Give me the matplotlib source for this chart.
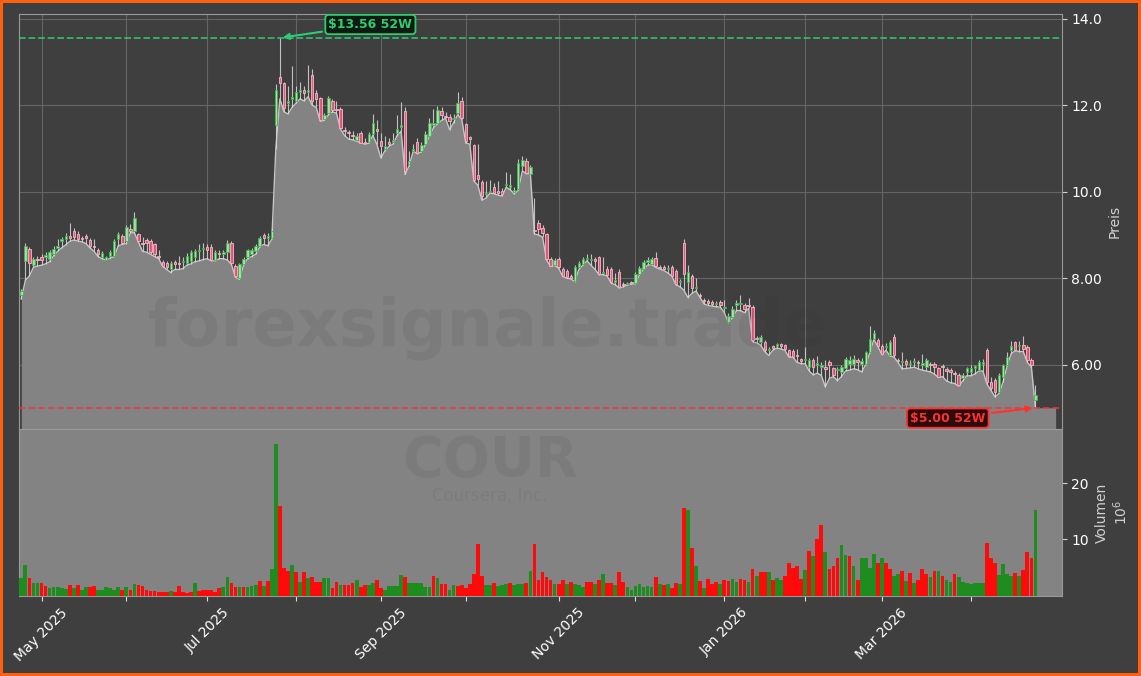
import matplotlib
matplotlib.use('Agg')
import matplotlib.pyplot as plt
import numpy as np
import pandas as pd

# --- chart data ---
ticker = 'COUR'
company = 'Coursera, Inc.'
watermark = 'forexsignale.trade'

# US market holidays inside the 52 week window
holidays = ['2025-05-26', '2025-06-19', '2025-07-04', '2025-09-01', '2025-11-27',
            '2025-12-25', '2026-01-01', '2026-01-19', '2026-02-16', '2026-04-03']
dates = pd.bdate_range('2025-04-24', '2026-04-24', freq='C', holidays=holidays)

open_ = [
    7.61, 8.40, 8.68, 8.31, 8.45, 8.50, 8.50, 8.44, 8.56, 8.70,
    8.85, 8.90, 8.98, 9.10, 9.02, 8.92, 8.98, 8.88, 8.74, 8.65,
    8.48, 8.42, 8.52, 8.52, 8.90, 8.98, 8.85, 9.14, 9.10, 9.02,
    8.80, 8.88, 8.86, 8.79, 8.50, 8.38, 8.36, 8.21, 8.38, 8.35,
    8.38, 8.34, 8.40, 8.48, 8.62, 8.68, 8.72, 8.73, 8.42, 8.58,
    8.55, 8.60, 8.82, 8.29, 8.00, 8.33, 8.49, 8.56, 8.63, 8.75,
    9.00, 8.92, 8.93, 11.55, 12.65, 12.51, 12.05, 12.15, 12.10, 12.30,
    12.35, 12.30, 12.70, 12.28, 12.17, 11.68, 11.82, 12.10, 11.92, 11.91,
    11.42, 11.38, 11.32, 11.20, 11.36, 11.15, 11.14, 11.33, 11.45, 11.17,
    11.00, 11.15, 11.15, 11.35, 11.50, 11.86, 10.65, 10.95, 11.15, 10.94,
    11.10, 11.30, 11.55, 11.60, 11.86, 11.75, 11.72, 11.68, 11.82, 12.09,
    11.56, 11.27, 11.08, 10.39, 10.23, 9.95, 10.00, 10.10, 10.00, 10.02,
    10.15, 10.12, 10.00, 10.06, 10.59, 10.71, 10.42, 9.12, 9.28, 9.17,
    9.02, 8.45, 8.31, 8.45, 8.21, 8.16, 8.05, 7.94, 8.25, 8.33,
    8.45, 8.42, 8.44, 8.48, 8.12, 8.22, 8.21, 7.92, 8.15, 7.86,
    7.86, 7.90, 7.88, 8.10, 8.22, 8.38, 8.33, 8.47, 8.25, 8.26,
    8.22, 8.25, 8.17, 7.90, 8.82, 7.90, 8.06, 7.78, 7.60, 7.48,
    7.47, 7.45, 7.40, 7.45, 7.30, 6.98, 7.10, 7.37, 7.40, 7.37,
    7.38, 7.33, 6.60, 6.52, 6.52, 6.33, 6.42, 6.42, 6.47, 6.45,
    6.33, 6.32, 6.22, 6.12, 6.10, 5.95, 6.10, 6.00, 5.95, 5.95,
    6.05, 5.91, 5.88, 5.83, 5.91, 6.02, 6.02, 6.10, 6.02, 6.02,
    6.29, 6.60, 6.56, 6.44, 6.40, 6.21, 6.63, 6.10, 6.05, 6.08,
    6.02, 6.05, 6.05, 6.00, 5.95, 6.00, 6.02, 5.91, 5.96, 5.90,
    5.88, 5.80, 5.75, 5.68, 5.82, 5.82, 5.92, 5.87, 6.02, 6.33,
    5.60, 5.64, 5.36, 5.71, 5.98, 6.33, 6.52, 6.42, 6.46, 6.40,
    6.10, 5.17]

close = [
    7.70, 8.75, 8.34, 8.45, 8.42, 8.42, 8.53, 8.60, 8.67, 8.74,
    8.90, 8.98, 8.94, 8.96, 8.90, 8.90, 8.92, 8.75, 8.72, 8.55,
    8.57, 8.48, 8.60, 8.85, 9.02, 8.82, 9.18, 9.08, 9.40, 8.85,
    8.78, 8.82, 8.60, 8.56, 8.48, 8.29, 8.25, 8.36, 8.33, 8.33,
    8.40, 8.52, 8.60, 8.63, 8.66, 8.70, 8.66, 8.42, 8.60, 8.56,
    8.60, 8.82, 8.36, 8.06, 8.33, 8.44, 8.65, 8.65, 8.75, 8.94,
    8.94, 8.98, 9.10, 12.36, 12.51, 11.94, 12.10, 12.20, 12.30, 12.35,
    12.28, 12.35, 12.10, 12.14, 11.67, 11.77, 12.18, 11.90, 11.90, 11.48,
    11.40, 11.35, 11.28, 11.30, 11.13, 11.12, 11.33, 11.60, 11.40, 11.05,
    11.05, 11.10, 11.20, 11.45, 11.55, 10.48, 10.70, 11.00, 10.90, 11.08,
    11.33, 11.60, 11.58, 11.90, 11.77, 11.72, 11.63, 11.70, 12.05, 11.70,
    11.17, 11.22, 10.27, 10.30, 9.90, 9.98, 10.02, 9.98, 9.98, 9.95,
    10.18, 10.15, 10.05, 10.67, 10.73, 10.44, 10.57, 9.10, 9.14, 9.05,
    8.44, 8.29, 8.43, 8.25, 8.06, 8.02, 8.00, 8.25, 8.36, 8.45,
    8.47, 8.45, 8.40, 8.10, 8.15, 8.08, 7.90, 7.95, 7.79, 7.84,
    7.86, 7.88, 8.10, 8.24, 8.38, 8.42, 8.45, 8.27, 8.23, 8.22,
    8.24, 8.06, 7.87, 7.92, 8.10, 8.14, 7.76, 7.80, 7.58, 7.46,
    7.42, 7.40, 7.42, 7.38, 7.32, 7.13, 7.29, 7.42, 7.42, 7.29,
    7.36, 6.56, 6.58, 6.63, 6.33, 6.35, 6.38, 6.47, 6.43, 6.35,
    6.19, 6.18, 6.20, 6.08, 6.12, 6.10, 5.95, 6.02, 6.00, 5.90,
    6.00, 5.75, 5.90, 5.94, 6.13, 6.10, 6.12, 6.05, 6.08, 6.29,
    6.60, 6.72, 6.44, 6.25, 6.42, 6.52, 6.21, 6.08, 6.08, 6.02,
    6.03, 6.08, 6.04, 6.02, 6.10, 5.98, 5.95, 5.71, 5.94, 5.85,
    5.82, 5.78, 5.52, 5.75, 5.91, 5.91, 5.96, 6.06, 6.06, 5.60,
    5.45, 5.36, 5.75, 5.98, 6.17, 6.44, 6.33, 6.46, 6.36, 6.10,
    5.98, 5.29]

high = [
    7.75, 8.82, 8.72, 8.50, 8.52, 8.55, 8.60, 8.64, 8.75, 8.90,
    8.95, 9.05, 9.28, 9.15, 9.08, 8.98, 9.02, 8.92, 8.90, 8.70,
    8.62, 8.52, 8.64, 8.90, 9.06, 9.02, 9.22, 9.25, 9.52, 9.05,
    8.95, 8.92, 8.90, 8.82, 8.65, 8.42, 8.40, 8.40, 8.42, 8.52,
    8.50, 8.58, 8.65, 8.68, 8.80, 8.82, 8.78, 8.78, 8.64, 8.66,
    8.64, 8.88, 8.85, 8.32, 8.36, 8.48, 8.68, 8.70, 8.78, 8.98,
    9.05, 9.05, 9.15, 12.50, 13.56, 12.55, 12.45, 12.90, 12.45, 12.55,
    12.45, 12.94, 12.85, 12.35, 12.20, 11.82, 12.22, 12.15, 12.10, 11.95,
    11.50, 11.42, 11.40, 11.35, 11.40, 11.25, 11.38, 11.79, 11.65, 11.35,
    11.30, 11.25, 11.35, 11.78, 12.08, 11.95, 10.95, 11.10, 11.25, 11.15,
    11.40, 11.70, 11.92, 11.98, 11.95, 11.85, 11.80, 11.80, 12.30, 12.20,
    11.60, 11.30, 11.10, 11.10, 10.28, 10.25, 10.28, 10.20, 10.25, 10.08,
    10.45, 10.40, 10.10, 10.75, 10.82, 10.78, 10.62, 9.86, 9.35, 9.22,
    9.05, 8.48, 8.47, 8.48, 8.25, 8.20, 8.10, 8.30, 8.40, 8.50,
    8.55, 8.55, 8.48, 8.52, 8.50, 8.28, 8.25, 8.12, 8.20, 7.90,
    7.92, 7.94, 8.14, 8.28, 8.42, 8.50, 8.50, 8.60, 8.30, 8.30,
    8.30, 8.30, 8.20, 7.98, 8.90, 8.30, 8.10, 8.00, 7.65, 7.55,
    7.52, 7.50, 7.48, 7.50, 7.50, 7.20, 7.35, 7.50, 7.60, 7.42,
    7.55, 7.38, 6.65, 6.68, 6.56, 6.40, 6.46, 6.50, 6.50, 6.48,
    6.36, 6.35, 6.35, 6.16, 6.40, 6.15, 6.15, 6.20, 6.05, 6.10,
    6.10, 5.95, 5.95, 5.98, 6.18, 6.20, 6.22, 6.15, 6.15, 6.32,
    6.90, 6.80, 6.62, 6.48, 6.50, 6.56, 6.70, 6.15, 6.30, 6.12,
    6.10, 6.15, 6.10, 6.25, 6.15, 6.05, 6.06, 5.95, 6.02, 5.95,
    5.92, 5.85, 5.80, 5.80, 5.95, 5.98, 6.00, 6.10, 6.12, 6.38,
    5.70, 5.68, 5.80, 6.02, 6.30, 6.55, 6.55, 6.55, 6.67, 6.45,
    6.15, 5.52]

low = [
    7.52, 7.95, 8.05, 8.25, 8.28, 8.30, 8.33, 8.38, 8.52, 8.62,
    8.70, 8.77, 8.85, 8.88, 8.86, 8.84, 8.80, 8.70, 8.62, 8.50,
    8.45, 8.42, 8.46, 8.50, 8.75, 8.78, 8.80, 9.05, 9.05, 8.83,
    8.62, 8.60, 8.55, 8.50, 8.45, 8.27, 8.20, 8.13, 8.20, 8.20,
    8.22, 8.30, 8.33, 8.38, 8.40, 8.43, 8.45, 8.40, 8.40, 8.45,
    8.45, 8.42, 8.32, 8.02, 7.97, 8.30, 8.45, 8.50, 8.55, 8.72,
    8.78, 8.75, 8.90, 11.00, 12.15, 11.85, 11.80, 11.95, 12.05, 12.15,
    12.10, 12.20, 12.00, 11.95, 11.63, 11.65, 11.78, 11.85, 11.82, 11.45,
    11.30, 11.22, 11.20, 11.17, 11.13, 11.10, 11.12, 11.30, 11.10, 10.78,
    10.95, 11.05, 11.10, 11.30, 11.40, 10.40, 10.60, 10.94, 10.88, 10.92,
    11.08, 11.28, 11.48, 11.57, 11.65, 11.70, 11.44, 11.60, 11.78, 11.68,
    11.13, 11.10, 10.25, 10.15, 9.80, 9.85, 9.97, 9.95, 9.92, 9.90,
    10.10, 10.05, 9.95, 10.03, 10.48, 10.42, 10.41, 9.02, 9.00, 8.95,
    8.42, 8.27, 8.29, 8.23, 8.04, 8.00, 7.98, 7.92, 8.20, 8.30,
    8.40, 8.30, 8.20, 8.08, 8.08, 8.05, 7.88, 7.85, 7.77, 7.80,
    7.84, 7.86, 7.87, 8.08, 8.20, 8.30, 8.31, 8.25, 8.21, 8.18,
    8.12, 8.05, 7.85, 7.80, 7.72, 7.55, 7.65, 7.70, 7.55, 7.40,
    7.37, 7.35, 7.34, 7.33, 7.20, 6.97, 7.08, 7.25, 7.25, 7.20,
    7.30, 6.53, 6.50, 6.45, 6.30, 6.21, 6.33, 6.38, 6.36, 6.33,
    6.17, 6.17, 6.05, 6.02, 6.02, 5.85, 5.76, 5.80, 5.75, 5.48,
    5.68, 5.72, 5.63, 5.72, 5.85, 5.87, 5.90, 5.88, 5.83, 6.00,
    6.27, 6.58, 6.42, 6.23, 6.33, 6.20, 6.17, 6.05, 5.90, 5.91,
    5.92, 5.94, 5.90, 5.87, 5.85, 5.83, 5.78, 5.70, 5.72, 5.62,
    5.58, 5.56, 5.50, 5.62, 5.74, 5.74, 5.78, 5.85, 5.85, 5.55,
    5.40, 5.25, 5.33, 5.60, 5.97, 6.25, 6.32, 6.30, 6.30, 6.05,
    5.94, 5.00]

# volume in millions of shares
volume = [
    3.1, 5.5, 3.1, 2.3, 2.2, 2.2, 1.7, 1.3, 1.5, 1.5,
    1.3, 1.2, 1.9, 1.3, 1.9, 1.1, 1.6, 1.6, 1.7, 1.1,
    1.1, 1.6, 1.3, 1.1, 1.5, 1.1, 1.6, 1.0, 2.1, 1.9,
    1.7, 1.0, 0.9, 0.9, 0.7, 0.7, 0.6, 0.8, 0.6, 1.7,
    0.7, 0.4, 0.6, 2.2, 0.9, 1.1, 1.1, 1.1, 0.6, 1.3,
    1.6, 3.3, 2.3, 1.5, 1.6, 1.5, 1.6, 1.7, 1.9, 2.7,
    1.7, 2.6, 4.8, 26.9, 16.0, 4.9, 4.4, 5.5, 4.3, 2.4,
    4.3, 3.2, 3.3, 2.4, 2.4, 3.2, 3.2, 1.4, 2.4, 1.9,
    1.9, 1.9, 2.2, 2.8, 1.5, 1.9, 1.9, 2.2, 2.8, 1.4,
    1.0, 1.7, 1.7, 1.8, 3.7, 3.4, 2.2, 2.2, 2.2, 2.3,
    1.5, 1.6, 3.5, 3.1, 2.1, 2.1, 1.0, 1.9, 1.8, 1.9,
    1.3, 2.0, 3.9, 9.2, 3.5, 1.9, 1.9, 2.2, 1.7, 1.9,
    2.1, 2.2, 1.9, 2.1, 2.1, 2.2, 4.4, 9.2, 2.8, 4.2,
    3.4, 2.8, 2.1, 2.1, 2.8, 2.1, 2.4, 2.1, 1.9, 1.5,
    2.4, 2.4, 2.0, 2.8, 3.9, 2.2, 2.2, 1.9, 4.2, 2.4,
    1.5, 1.1, 1.8, 2.1, 1.6, 1.8, 1.5, 3.4, 2.1, 1.9,
    2.1, 1.3, 2.2, 2.1, 15.6, 15.3, 8.5, 5.3, 2.6, 1.4,
    3.0, 2.0, 2.4, 2.0, 2.8, 2.6, 3.0, 2.5, 3.0, 2.8,
    2.5, 4.8, 3.5, 4.2, 4.2, 4.2, 2.8, 3.1, 2.8, 3.5,
    5.8, 5.0, 5.2, 3.0, 4.6, 8.0, 7.0, 10.1, 12.6, 7.7,
    4.7, 5.3, 6.7, 9.1, 7.3, 7.0, 5.3, 2.8, 6.7, 6.7,
    4.9, 7.4, 5.8, 6.7, 5.8, 4.7, 3.5, 3.9, 4.4, 2.6,
    4.0, 2.3, 2.8, 4.7, 3.9, 3.4, 4.4, 4.4, 3.5, 2.8,
    2.5, 3.9, 3.3, 2.5, 2.2, 2.1, 2.3, 2.2, 2.3, 9.4,
    6.7, 5.9, 3.7, 5.7, 3.9, 3.5, 4.0, 3.5, 4.6, 7.7,
    6.7, 15.3]

# 1 = green volume bar, 0 = red volume bar
volume_up = [
    1, 1, 0, 1, 1, 0, 0, 1, 1, 1,
    1, 1, 0, 1, 0, 1, 1, 0, 0, 1,
    1, 1, 1, 1, 1, 0, 1, 0, 1, 0,
    0, 0, 0, 0, 0, 0, 0, 1, 0, 0,
    0, 0, 0, 1, 0, 0, 0, 0, 0, 0,
    1, 1, 0, 0, 1, 0, 1, 1, 1, 0,
    1, 0, 1, 1, 0, 0, 0, 1, 0, 1,
    0, 1, 0, 0, 0, 1, 1, 0, 0, 1,
    0, 0, 0, 1, 0, 0, 1, 1, 0, 0,
    1, 1, 1, 1, 1, 0, 1, 1, 1, 1,
    1, 1, 0, 1, 0, 0, 1, 1, 0, 0,
    0, 0, 0, 0, 0, 1, 1, 0, 1, 1,
    1, 0, 1, 1, 1, 0, 1, 0, 0, 0,
    0, 0, 1, 0, 0, 1, 0, 1, 1, 1,
    0, 0, 1, 0, 1, 0, 0, 1, 0, 0,
    1, 1, 1, 1, 1, 1, 1, 0, 1, 0,
    1, 0, 0, 1, 0, 1, 0, 1, 0, 1,
    0, 0, 0, 1, 0, 0, 1, 1, 0, 0,
    1, 0, 1, 0, 0, 1, 0, 1, 1, 0,
    0, 0, 0, 0, 1, 0, 1, 0, 0, 1,
    0, 0, 0, 1, 1, 0, 1, 0, 1, 1,
    1, 1, 0, 1, 0, 0, 1, 1, 0, 1,
    0, 1, 0, 0, 0, 1, 0, 1, 0, 1,
    1, 0, 1, 1, 1, 1, 1, 1, 1, 0,
    0, 0, 1, 1, 1, 1, 0, 1, 0, 0,
    0, 1]

price_ticks = [6, 8, 10, 12, 14]
price_tick_labels = ['6.00', '8.00', '10.0', '12.0', '14.0']
volume_ticks = [10, 20]
volume_tick_labels = ['10', '20']

# --- styling ---
bg = '#3f3f3f'
border = '#ff6010'
fill_col = '#838383'
text_col = 'white'
label_col = '#d0d0d0'
green52 = '#2ecc71'
red52 = '#e8383d'

n = len(close)
x = np.arange(n)
o = np.array(open_)
c = np.array(close)
h = np.array(high)
l = np.array(low)

fig = plt.figure(figsize=(11.41, 6.76), dpi=100, facecolor=bg,
                 edgecolor=border, linewidth=4)
ax1 = fig.add_axes([0.0169, 0.3649, 0.9136, 0.6148])
ax2 = fig.add_axes([0.0169, 0.1188, 0.9136, 0.2462], sharex=ax1)

# price panel: area under the lows, then candles on top
ax1.set_facecolor(bg)
xf = np.arange(n + 5)
lf = np.concatenate([l, np.full(5, l[-1])])
ax1.fill_between(xf, lf, 0, color=fill_col, lw=0, zorder=2)
ax1.plot(x, l, color='#c6c6c6', lw=1.0, zorder=3)

up = c >= o
ax1.vlines(x, l, h, color='#d8d8d8', lw=0.8, alpha=0.85, zorder=4)
body_bottom = np.minimum(o, c)
body_height = np.maximum(np.abs(c - o), 0.025)
ax1.bar(x[up], body_height[up], bottom=body_bottom[up], width=0.6,
        color='#b4dab4', edgecolor='#3cb84a', lw=0.7, alpha=0.9, zorder=5)
ax1.bar(x[~up], body_height[~up], bottom=body_bottom[~up], width=0.6,
        color='#e8557a', edgecolor='#f7b3c4', lw=0.7, alpha=0.9, zorder=5)

# 52 week high / low
hi_idx = int(np.argmax(h))
lo_idx = int(np.argmin(l))
ax1.axhline(h[hi_idx], color=green52, ls='--', lw=1.3, alpha=0.85, zorder=6)
ax1.axhline(l[lo_idx], color=red52, ls='--', lw=1.3, alpha=0.85, zorder=6)
ax1.annotate('${:.2f} 52W'.format(h[hi_idx]), xy=(hi_idx, h[hi_idx]),
             xytext=(86.4, 13.87), color=green52, fontsize=9, fontweight='bold',
             ha='center', va='center', zorder=8,
             bbox=dict(boxstyle='round,pad=0.25', fc='#0e1a12', ec=green52, lw=1.3),
             arrowprops=dict(arrowstyle='-|>', color=green52, lw=1.5))
ax1.annotate('${:.2f} 52W'.format(l[lo_idx]), xy=(lo_idx, l[lo_idx]),
             xytext=(229.3, 4.76), color='#ff3030', fontsize=9, fontweight='bold',
             ha='center', va='center', zorder=8,
             bbox=dict(boxstyle='round,pad=0.25', fc='#2a0c0c', ec='#ff3030', lw=1.3),
             arrowprops=dict(arrowstyle='-|>', color='#ff3030', lw=1.5))

ax1.set_xlim(-0.5, n + 5.5)
ax1.set_ylim(4.5, 14.12)
ax1.set_yticks(price_ticks)
ax1.set_yticklabels(price_tick_labels)
ax1.yaxis.tick_right()
ax1.yaxis.set_label_position('right')
ax1.set_ylabel('Preis', color=label_col, fontsize=10)
ax1.grid(True, color='#646464', lw=0.8)
ax1.set_axisbelow(True)
ax1.tick_params(axis='x', length=0, labelbottom=False)
ax1.tick_params(axis='y', colors='#cfcfcf', labelcolor=text_col, labelsize=10)

# volume panel
ax2.set_facecolor(fill_col)
vol_colors = ['#1f8c1f' if v else '#ff0a0a' for v in volume_up]
ax2.bar(x, volume, width=0.92, color=vol_colors, lw=0, zorder=3)
ax2.set_ylim(0, 29.6)
ax2.set_yticks(volume_ticks)
ax2.set_yticklabels(volume_tick_labels)
ax2.yaxis.tick_right()
ax2.yaxis.set_label_position('right')
ax2.set_ylabel('Volumen\n$10^6$', color=label_col, fontsize=10)
ax2.tick_params(axis='y', colors='#cfcfcf', labelcolor=text_col, labelsize=10)

# month ticks on the first trading day of each month, labels every 2nd month
month = dates.month
tick_idx = [i for i in range(1, n) if month[i] != month[i - 1]]
tick_labels = [dates[i].strftime('%b %Y') if dates[i].month % 2 == 1 else ''
               for i in tick_idx]
ax2.set_xticks(tick_idx)
ax2.set_xticklabels(tick_labels, rotation=45, ha='center')
ax2.tick_params(axis='x', colors='#dddddd', labelcolor=text_col, labelsize=10)

for ax in (ax1, ax2):
    for sp in ax.spines.values():
        sp.set_color('#9a9a9a')
        sp.set_linewidth(0.8)

# watermarks
fig.text(0.4277, 0.515, watermark, fontsize=47, fontweight='bold', color='#303030',
         alpha=0.09, ha='center', va='center', zorder=10)
fig.text(0.4295, 0.318, ticker, fontsize=40, fontweight='bold', color='#303030',
         alpha=0.09, ha='center', va='center', zorder=10)
fig.text(0.4295, 0.266, company, fontsize=12, color='#303030',
         alpha=0.08, ha='center', va='center', zorder=10)

fig.savefig('out.png', dpi=100, facecolor=fig.get_facecolor(),
            edgecolor=fig.get_edgecolor())
